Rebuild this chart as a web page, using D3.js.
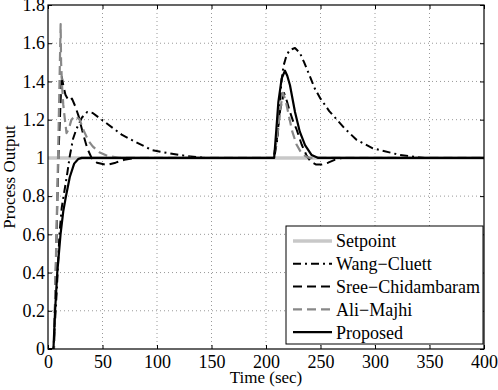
<!DOCTYPE html>
<html>
<head>
<meta charset="utf-8">
<script src="https://cdn.jsdelivr.net/npm/d3@7"></script>
<style>
  body { margin: 0; background: #fff; }
</style>
</head>
<body>
<script>
// time / value pairs
var setpointT = [0, 400]
var setpointY = [1, 1]

var wangT = [0, 5, 8, 10.5, 12.6, 14.6, 17.7, 20, 23, 26, 31, 36, 41, 54, 68, 81.5, 95.6, 110, 127, 145, 207.5,
  210, 212, 214, 216, 219, 222, 226.6, 231, 235, 240, 245, 250, 258, 265, 272, 283, 298, 323, 345, 400]
var wangY = [0, 0, 0.3, 0.6, 0.74, 0.81, 0.92, 1.01, 1.1, 1.15, 1.21, 1.24, 1.235, 1.18, 1.12, 1.08, 1.04, 1.025, 1.01, 1.0, 1.0,
  1.08, 1.2, 1.39, 1.48, 1.54, 1.565, 1.575, 1.55, 1.5, 1.43, 1.36, 1.31, 1.245, 1.2, 1.155, 1.095, 1.05, 1.015, 1.0, 1.0]

var sreeT = [0, 5.5, 9.5, 12.5, 14, 16, 19, 22, 25, 28, 32, 36, 40, 45, 54, 62, 70, 80, 100, 207, 210, 213, 216.5,
  219, 222, 225, 228, 232.7, 237, 241, 246, 251, 257, 263, 270, 400]
var sreeY = [0, 0, 1.0, 1.43, 1.38, 1.33, 1.30, 1.31, 1.27, 1.22, 1.13, 1.05, 1.0, 0.975, 0.963, 0.975, 0.99, 1.0, 1.0, 1.0, 1.1, 1.25, 1.34,
  1.3, 1.24, 1.19, 1.15, 1.07, 1.015, 0.98, 0.965, 0.965, 0.975, 0.99, 1.0, 1.0]

var aliT = [0, 5.5, 9.2, 11.6, 12, 13, 14, 15.5, 17, 19, 21.5, 25, 29, 33, 37, 41, 47, 55, 65, 100, 207, 210, 213, 215.5,
  218, 221, 224, 228, 232, 236, 240, 400]
var aliY = [0, 0, 1.0, 1.7, 1.5, 1.37, 1.28, 1.2, 1.13, 1.15, 1.2, 1.22, 1.2, 1.14, 1.09, 1.06, 1.03, 1.01, 1.0, 1.0, 1.0, 1.1, 1.25, 1.34,
  1.3, 1.22, 1.14, 1.07, 1.03, 1.01, 1.0, 1.0]

var propT = [0, 5, 6.5, 8.5, 11.5, 14, 16.5, 20, 24, 28, 31, 100, 207.5, 209.5, 211.3, 214.4, 217.4, 219.5, 222, 226.6,
  231, 235.8, 241.9, 248, 400]
var propY = [0, 0, 0.2, 0.4, 0.6, 0.72, 0.8, 0.9, 0.97, 0.995, 1.0, 1.0, 1.0, 1.15, 1.29, 1.416, 1.456, 1.43, 1.38, 1.24,
  1.137, 1.067, 1.015, 1.0, 1.0]

var xTicks = [0, 50, 100, 150, 200, 250, 300, 350, 400]
var yTicks = [0, 0.2, 0.4, 0.6, 0.8, 1, 1.2, 1.4, 1.6, 1.8]

var series = [
  { name: "Setpoint", t: setpointT, y: setpointY, color: "#c8c8c8", width: 3.5, dash: null },
  { name: "Wang\u2212Cluett", t: wangT, y: wangY, color: "#000", width: 2, dash: "8,4,2,4" },
  { name: "Sree\u2212Chidambaram", t: sreeT, y: sreeY, color: "#000", width: 2, dash: "9,5" },
  { name: "Ali\u2212Majhi", t: aliT, y: aliY, color: "#888", width: 2.2, dash: "9,5" },
  { name: "Proposed", t: propT, y: propY, color: "#000", width: 2.2, dash: null }
]

var FONT = "'Liberation Serif', 'Times New Roman', serif"
var W = 498, H = 390
var m = { left: 48, right: 14, top: 5, bottom: 41 }
var iw = W - m.left - m.right, ih = H - m.top - m.bottom

var svg = d3.select("body").append("svg")
  .attr("width", W).attr("height", H)
  .style("font-family", FONT)

var x = d3.scaleLinear().domain([0, 400]).range([0, iw])
var y = d3.scaleLinear().domain([0, 1.8]).range([ih, 0])

var g = svg.append("g").attr("transform", "translate(" + m.left + "," + m.top + ")")

// dotted grid
g.append("g").selectAll("line").data(xTicks.slice(1, -1)).enter().append("line")
  .attr("x1", function(d) { return x(d) }).attr("x2", function(d) { return x(d) })
  .attr("y1", 0).attr("y2", ih)
  .attr("stroke", "#999").attr("stroke-width", 1).attr("stroke-dasharray", "1,3")
g.append("g").selectAll("line").data(yTicks.slice(1, -1)).enter().append("line")
  .attr("y1", function(d) { return y(d) }).attr("y2", function(d) { return y(d) })
  .attr("x1", 0).attr("x2", iw)
  .attr("stroke", "#999").attr("stroke-width", 1).attr("stroke-dasharray", "1,3")

// axes with inward ticks on all four sides
var fmt = function(d) { return String(+d.toFixed(1)) }
var xb = g.append("g").attr("transform", "translate(0," + ih + ")")
  .call(d3.axisBottom(x).tickValues(xTicks).tickSizeInner(-4).tickSizeOuter(0).tickPadding(6))
var xt = g.append("g")
  .call(d3.axisTop(x).tickValues(xTicks).tickSizeInner(-4).tickSizeOuter(0).tickFormat(""))
var yl = g.append("g")
  .call(d3.axisLeft(y).tickValues(yTicks).tickSizeInner(-4).tickSizeOuter(0).tickPadding(3).tickFormat(fmt))
var yr = g.append("g").attr("transform", "translate(" + iw + ",0)")
  .call(d3.axisRight(y).tickValues(yTicks).tickSizeInner(-4).tickSizeOuter(0).tickFormat(""))

;[xb, xt, yl, yr].forEach(function(a) {
  a.attr("font-family", null).attr("font-size", null)
  a.select(".domain").remove()
  a.selectAll("line").attr("stroke", "#000")
  a.selectAll("text").style("font-family", FONT).style("font-size", "18px").attr("fill", "#000")
})

// curves
var line = d3.line()
  .x(function(d) { return x(d[0]) })
  .y(function(d) { return y(d[1]) })

g.append("defs").append("clipPath").attr("id", "clip")
  .append("rect").attr("width", iw).attr("height", ih)

var curves = g.append("g").attr("clip-path", "url(#clip)")
series.forEach(function(s) {
  curves.append("path")
    .datum(d3.zip(s.t, s.y))
    .attr("d", line)
    .attr("fill", "none")
    .attr("stroke", s.color)
    .attr("stroke-width", s.width)
    .attr("stroke-linejoin", "round")
    .attr("stroke-dasharray", s.dash)
})

// frame
g.append("rect").attr("width", iw).attr("height", ih)
  .attr("fill", "none").attr("stroke", "#000").attr("stroke-width", 1.2)

// axis labels
svg.append("text")
  .attr("x", m.left + iw / 2).attr("y", 383)
  .attr("text-anchor", "middle").style("font-size", "17px")
  .text("Time (sec)")
svg.append("text")
  .attr("transform", "translate(15," + (m.top + ih / 2) + ") rotate(-90)")
  .attr("text-anchor", "middle").style("font-size", "17px")
  .text("Process Output")

// legend
var lg = svg.append("g").attr("transform", "translate(286,226)")
lg.append("rect").attr("width", 197).attr("height", 118)
  .attr("fill", "#fff").attr("stroke", "#000").attr("stroke-width", 1)
var rows = lg.selectAll("g.row").data(series).enter().append("g")
  .attr("class", "row")
  .attr("transform", function(d, i) { return "translate(0," + (15 + i * 22.8) + ")" })
rows.append("line")
  .attr("x1", 7).attr("x2", 46)
  .attr("stroke", function(d) { return d.color })
  .attr("stroke-width", function(d) { return d.width })
  .attr("stroke-dasharray", function(d) { return d.dash })
rows.append("text")
  .attr("x", 50).attr("dy", "0.35em")
  .style("font-size", "18px")
  .text(function(d) { return d.name })
</script>
</body>
</html>
